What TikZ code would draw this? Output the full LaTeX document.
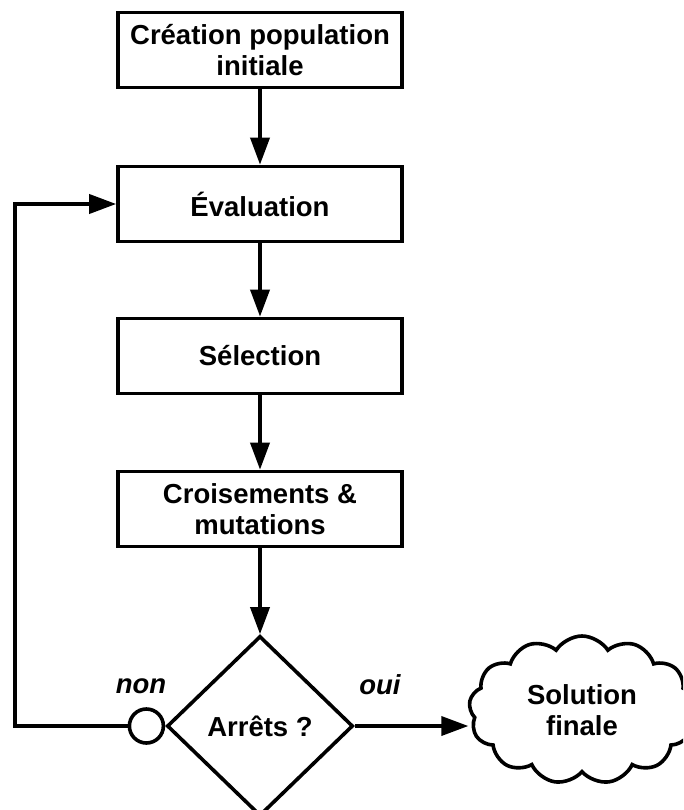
\documentclass[tikz,border=0pt]{standalone}
\usepackage{fontspec}
\setmainfont{Liberation Sans}
\usetikzlibrary{arrows.meta,shapes.geometric,shapes.symbols}

\tikzset{
  etape/.style={draw, rectangle, minimum width=284pt, minimum height=75pt,
    align=center, inner sep=0pt},
  fleche/.style={-{Triangle[length=27pt,width=19pt]}},
  reponse/.style={font=\fontsize{27.5}{31.5}\selectfont\bfseries\itshape},
}

\begin{document}
\begin{tikzpicture}[x=1pt,y=-1pt,line width=3.6pt,
    font=\fontsize{27.5}{31.5}\selectfont\bfseries]
	\clip (0,0) rectangle (683,810);

	%% etapes de l'algorithme
	\node [etape] (init) at (260,50) {Création population\\initiale};
	\node [etape] (eval) at (260,204) {Évaluation};
	\node [etape] (sel) at (260,356) {Sélection};
	\node [etape] (crois) at (260,509) {Croisements \&\\mutations};

	%% test d'arret
	\node [draw, diamond, minimum width=186pt, minimum height=180pt,
	  inner sep=0pt] (test) at (260,726) {Arrêts ?};
	\node [draw, circle, fill=white, minimum size=34pt, inner sep=0pt,
	  anchor=east] (ring) at (test.west) {};
	\node [draw, cloud, cloud puffs=13, cloud puff arc=115, cloud ignores aspect,
	  minimum width=226pt, minimum height=148pt, inner sep=0pt,
	  align=center] (fin) at (582,710) {Solution\\finale};

	\node [reponse] (non) at (141,686) {non};
	\node [reponse] (oui) at (380,685) {oui};

	%% fleches
	\draw [fleche] (init) -- (eval);
	\draw [fleche] (eval) -- (sel);
	\draw [fleche] (sel) -- (crois);
	\draw [fleche] (crois) -- (test);
	\draw [fleche] (test.east) -- (fin.west |- test.east);

	%% boucle "non"
	\coordinate (bend) at (15,726);
	\draw [fleche] (ring.west) -- (bend) |- (eval.west);
\end{tikzpicture}
\end{document}
